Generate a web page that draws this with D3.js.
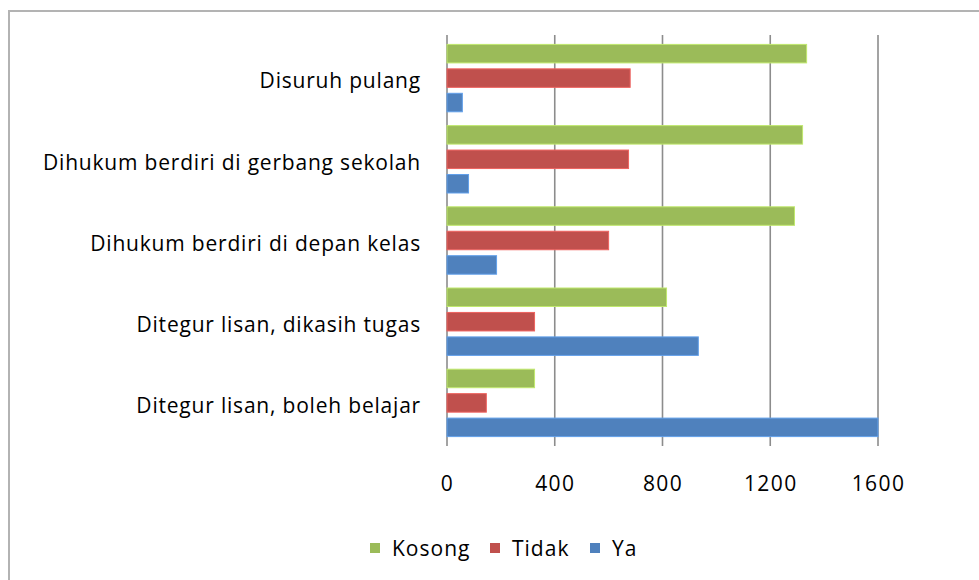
<!DOCTYPE html>
<html>
<head>
<meta charset="utf-8">
<script src="https://cdn.jsdelivr.net/npm/d3@7"></script>
<style>
  html, body { margin: 0; padding: 0; background: #fff; }
  svg { display: block; }
  text { font-family: "Open Sans", sans-serif; fill: #000; }
</style>
</head>
<body>
<svg id="chart" width="979" height="580"></svg>
<script>
// ---- data ----
const categories = [
  "Disuruh pulang",
  "Dihukum berdiri di gerbang sekolah",
  "Dihukum berdiri di depan kelas",
  "Ditegur lisan, dikasih tugas",
  "Ditegur lisan, boleh belajar"
];
const seriesNames = ["Kosong", "Tidak", "Ya"];
const kosong = [1335, 1320, 1290, 815, 325];
const tidak  = [680, 674, 600, 325, 146];
const ya     = [57, 80, 184, 933, 1600];
const xTicks = [0, 400, 800, 1200, 1600];
const colors = ["#9BBB59", "#C0504D", "#4F81BD"];

const seriesValues = [kosong, tidak, ya];

const svg = d3.select("#chart");

// outer chart border
svg.append("rect")
  .attr("x", 9).attr("y", 11)
  .attr("width", 1000).attr("height", 1000)
  .attr("fill", "#fff")
  .attr("stroke", "#b3b3b3")
  .attr("stroke-width", 2);

const x = d3.scaleLinear().domain([0, 1600]).range([447, 878]);
const y = d3.scaleBand().domain(categories).range([37.5, 443.5])
  .paddingInner(0.17).paddingOuter(0.085);
const ySub = d3.scaleBand().domain(seriesNames).range([0, y.bandwidth()])
  .paddingInner(0.243).paddingOuter(0);

// gridlines + ticks
const grid = svg.append("g");
grid.selectAll("line").data(xTicks).join("line")
  .attr("x1", d => x(d)).attr("x2", d => x(d))
  .attr("y1", 35).attr("y2", 446)
  .attr("stroke", "#8c8c8c")
  .attr("stroke-width", 1.6);

// x axis labels via d3 axis
const xAxis = d3.axisBottom(x).tickValues(xTicks).tickSize(0).tickPadding(0)
  .tickFormat(d3.format("d"));
const gx = svg.append("g").attr("transform", "translate(0,476)").call(xAxis);
gx.select(".domain").remove();
gx.selectAll("text")
  .attr("font-family", "Open Sans, sans-serif")
  .attr("font-size", 21)
  .attr("letter-spacing", 1.4)
  .attr("fill", "#111");

// bars
const rows = [];
categories.forEach((c, i) => {
  seriesNames.forEach((s, j) => rows.push({cat: c, ser: s, val: seriesValues[j][i], color: colors[j]}));
});
svg.append("g").selectAll("rect").data(rows).join("rect")
  .attr("x", x(0))
  .attr("y", d => y(d.cat) + ySub(d.ser))
  .attr("width", d => x(d.val) - x(0))
  .attr("height", ySub.bandwidth())
  .attr("fill", d => d.color)
  .attr("stroke", d => d3.color(d.color).brighter(0.6))
  .attr("stroke-width", 1);

// category labels
svg.append("g").selectAll("text").data(categories).join("text")
  .attr("x", 421)
  .attr("y", d => y(d) + y.bandwidth() / 2 + 3)
  .attr("dy", "0.35em")
  .attr("text-anchor", "end")
  .attr("font-size", 21)
  .attr("letter-spacing", 0.8)
  .attr("fill", "#111")
  .text(d => d);

// legend
const legendX = [370, 490, 590];
const lg = svg.append("g").selectAll("g").data(seriesNames).join("g")
  .attr("transform", (d, i) => `translate(${legendX[i]},543)`);
lg.append("rect").attr("width", 10).attr("height", 10)
  .attr("fill", (d, i) => colors[i]);
lg.append("text").attr("x", 22).attr("y", 13)
  .attr("font-size", 21)
  .attr("letter-spacing", 1.0)
  .attr("fill", "#111")
  .text(d => d);
</script>
</body>
</html>
